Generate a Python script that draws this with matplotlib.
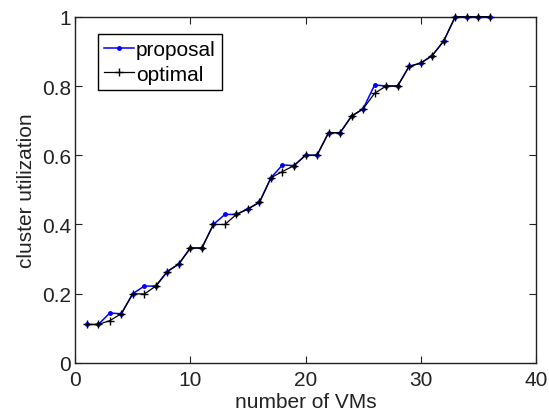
import numpy as np
import matplotlib
matplotlib.use('Agg')
import matplotlib.pyplot as plt

plt.rcParams['font.family'] = ['Liberation Sans', 'DejaVu Sans']

# values
num_vms = list(range(1, 37))
proposal = [0.111, 0.111, 0.144, 0.142, 0.200, 0.222, 0.222, 0.264, 0.286, 0.332,
            0.332, 0.400, 0.429, 0.429, 0.445, 0.464, 0.535, 0.572, 0.570, 0.600,
            0.600, 0.665, 0.665, 0.713, 0.734, 0.803, 0.800, 0.800, 0.857, 0.866,
            0.888, 0.930, 1.000, 1.000, 1.000, 1.000]
optimal = [0.111, 0.111, 0.122, 0.142, 0.200, 0.199, 0.222, 0.264, 0.286, 0.332,
           0.332, 0.400, 0.400, 0.429, 0.445, 0.464, 0.535, 0.553, 0.570, 0.600,
           0.600, 0.665, 0.665, 0.713, 0.734, 0.779, 0.800, 0.800, 0.857, 0.866,
           0.888, 0.930, 1.000, 1.000, 1.000, 1.000]

fig = plt.figure(figsize=(5.49, 4.14), dpi=100)
ax = fig.add_axes([0.137, 0.121, 0.839, 0.836])

ax.plot(num_vms, proposal, color='blue', marker='.', markersize=5, linewidth=1.1,
        label='proposal', clip_on=False, zorder=3)
ax.plot(num_vms, optimal, color='black', marker='+', markersize=6, markeredgewidth=1.0,
        linewidth=0.9, label='optimal', clip_on=False, zorder=4)

ax.set_xlim(0, 40)
ax.set_ylim(0, 1)
ax.set_xticks([0, 10, 20, 30, 40])
ax.set_yticks([0, 0.2, 0.4, 0.6, 0.8, 1])
ax.set_yticklabels(['0', '0.2', '0.4', '0.6', '0.8', '1'])

ax.tick_params(direction='in', length=5, width=0.8, top=True, right=True, labelsize=15, colors='#222222')
ax.tick_params(axis='x', pad=5)
ax.tick_params(axis='y', pad=3)
for sp in ax.spines.values():
    sp.set_linewidth(1.0)
    sp.set_color('#222222')

ax.set_xlabel('number of VMs', fontsize=15, labelpad=2, color='#222222')
ax.set_ylabel('cluster utilization', fontsize=15, labelpad=4, color='#222222')

leg = ax.legend(loc='upper left', bbox_to_anchor=(0.05, 0.95), fontsize=15, fancybox=False,
                framealpha=1, edgecolor='black', handlelength=1.4, handletextpad=0.1,
                labelspacing=0.25, borderpad=0.3, borderaxespad=0)
leg.get_frame().set_linewidth(1.0)

fig.savefig('out.png', dpi=100)
